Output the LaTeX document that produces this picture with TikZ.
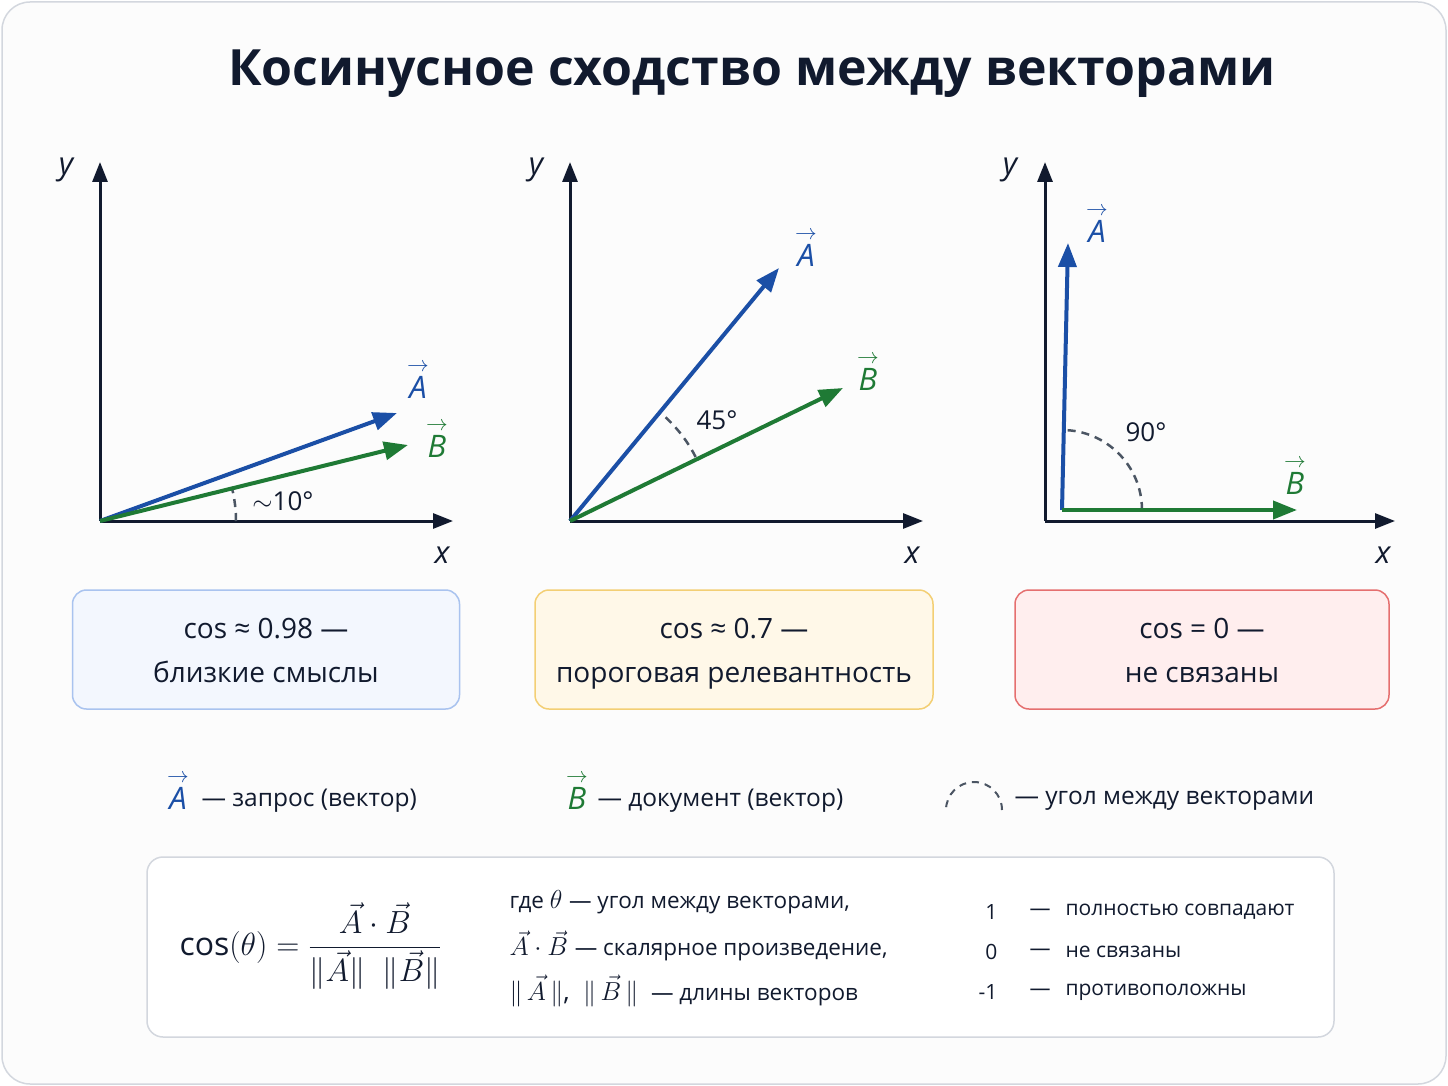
\RequirePackage{fix-cm}
\documentclass[tikz,border=0pt]{standalone}
\usepackage{amsmath}
\usepackage{fontspec}
\setmainfont{Open Sans}
\usetikzlibrary{arrows.meta}
\definecolor{navy}{HTML}{111A2E}
\definecolor{vecA}{HTML}{1B4FA6}
\definecolor{vecB}{HTML}{1F7A35}
\definecolor{arcgray}{HTML}{4B5563}
\definecolor{framegray}{HTML}{D3D7DE}
\definecolor{bluefill}{HTML}{F3F7FE}
\definecolor{blueline}{HTML}{A9C3EF}
\definecolor{yellowfill}{HTML}{FFF8E8}
\definecolor{yellowline}{HTML}{F3CF74}
\definecolor{redfill}{HTML}{FFEEEE}
\definecolor{redline}{HTML}{E56F6F}
\newcommand{\fs}[1]{\fontsize{#1}{#1}\selectfont}
\newcommand{\vs}[1]{$\overset{\rightarrow}{\text{\itshape #1}}$}
\begin{document}
\begin{tikzpicture}[x=1pt,y=-1pt,
	axis/.style={navy,line width=3pt,-{Triangle[length=20pt,width=15pt]}},
	vecline/.style={line width=4pt,-{Triangle[length=24pt,width=18pt]}},
	anglearc/.style={arcgray,line width=2.5pt,dash pattern=on 8pt off 6pt},
	axislabel/.style={navy,font=\itshape\fs{31}},
	veclabel/.style={font=\fs{31}},
	casebox/.style={rounded corners=14pt,line width=1.5pt,minimum width=#1,minimum height=119pt},
	boxtext/.style={navy,font=\fs{28},anchor=base}]
		\useasboundingbox (0,0) rectangle (1448,1086);
		\draw[framegray,fill=white!98!gray,line width=1.5pt,rounded corners=28pt] (2,2) rectangle (1446,1084);
		
		\node[navy,font=\bfseries\fs{50}] (title) at (752,74) {Косинусное сходство между векторами};
		
		% panel 1
		\coordinate (o1) at (100,521);
		\coordinate (a1) at (397,413);
		\coordinate (b1) at (408,445);
		\draw[axis] (o1)--(453,521);
		\draw[axis] (o1)--(100,162);
		\node[axislabel] (y1) at (66,170) {y};
		\node[axislabel] (x1) at (442,555) {x};
		\draw[anglearc] (236,521) arc[start angle=0,end angle=-14,radius=136];
		\draw[vecline,vecA] (o1)--(a1);
		\draw[vecline,vecB] (o1)--(b1);
		\node[veclabel,vecA] (la1) at (418,380) {\vs{A}};
		\node[veclabel,vecB] (lb1) at (437,439) {\vs{B}};
		\node[navy,font=\fs{26}] (deg1) at (283,501) {$\sim$10°};
		
		% panel 2
		\coordinate (o2) at (570,521);
		\coordinate (a2) at (779,268);
		\coordinate (b2) at (843,388);
		\draw[axis] (o2)--(923,521);
		\draw[axis] (o2)--(570,162);
		\node[axislabel] (y2) at (536,170) {y};
		\node[axislabel] (x2) at (912,555) {x};
		\draw[anglearc] (570,521) ++(-27:141) arc[start angle=-27,end angle=-50,radius=141];
		\draw[vecline,vecA] (o2)--(a2);
		\draw[vecline,vecB] (o2)--(b2);
		\node[veclabel,vecA] (la2) at (806,248) {\vs{A}};
		\node[veclabel,vecB] (lb2) at (868,372) {\vs{B}};
		\node[navy,font=\fs{26}] (deg2) at (717,420) {45°};
		
		% panel 3
		\coordinate (o3) at (1045,521);
		\coordinate (s3) at (1062,510);
		\coordinate (a3) at (1068,243);
		\coordinate (b3) at (1297,510);
		\draw[axis] (o3)--(1395,521);
		\draw[axis] (o3)--(1045,162);
		\node[axislabel] (y3) at (1010,170) {y};
		\node[axislabel] (x3) at (1383,555) {x};
		\draw[anglearc] (1142,510) arc[start angle=0,end angle=-90,radius=80];
		\draw[vecline,vecA] (s3)--(a3);
		\draw[vecline,vecB] (s3)--(b3);
		\node[veclabel,vecA] (la3) at (1097,224) {\vs{A}};
		\node[veclabel,vecB] (lb3) at (1295,476) {\vs{B}};
		\node[navy,font=\fs{26}] (deg3) at (1146,432) {90°};
		
		% boxes
		\node[casebox=387pt,draw=blueline,fill=bluefill] (box1) at (266,649.5) {};
		\node[casebox=398pt,draw=yellowline,fill=yellowfill] (box2) at (734,649.5) {};
		\node[casebox=374pt,draw=redline,fill=redfill] (box3) at (1202,649.5) {};
		\node[boxtext] (c1) at (266,638) {cos ≈ 0.98 —};
		\node[boxtext] (m1) at (266,682) {близкие смыслы};
		\node[boxtext] (c2) at (734,638) {cos ≈ 0.7 —};
		\node[boxtext] (m2) at (734,682) {пороговая релевантность};
		\node[boxtext] (c3) at (1202,638) {cos = 0 —};
		\node[boxtext] (m3) at (1202,682) {не связаны};
		
		% legend
		\node[veclabel,vecA] (legA) at (178,791) {\vs{A}};
		\node[navy,font=\fs{24.5},anchor=west] (legAt) at (198,801) {— запрос (вектор)};
		\node[veclabel,vecB] (legB) at (577,791) {\vs{B}};
		\node[navy,font=\fs{24.5},anchor=west] (legBt) at (594,801) {— документ (вектор)};
		\draw[anglearc,line width=2pt,dash pattern=on 7pt off 6pt] (1002,810) arc[start angle=0,end angle=-180,radius=28];
		\node[navy,font=\fs{24.5},anchor=west] (legarc) at (1011,801) {— угол между векторами};
		
		% formula
		\draw[framegray,fill=white,line width=1.5pt,rounded corners=16pt] (147,857) rectangle (1334,1037);
		\node[navy,font=\fs{32},anchor=west] (cosf) at (176,946) {cos$(\theta) = \dfrac{\vec{A}\cdot\vec{B}}{\|\vec{A}\|\;\;\|\vec{B}\|}$};
		\node[navy,font=\fs{22.5},anchor=west] (w1) at (506,902) {где \fs{26}$\theta$ \fs{22.5}— угол между векторами,};
		\node[navy,font=\fs{22.5},anchor=west] (w2) at (506,946) {\fs{26}$\vec{A}\cdot\vec{B}$ \fs{22.5}— скалярное произведение,};
		\node[navy,font=\fs{22.5},anchor=west] (w3) at (506,991) {\fs{26}$\|\,\vec{A}\,\|$, \ $\|\,\vec{B}\,\|$ \fs{22.5} — длины векторов};
		
		\foreach \v/\t/\yy in {1/полностью совпадают/912,0/не связаны/952,-1/противоположны/992}{
			\node[navy,font=\fs{21},anchor=east] at (1001,\yy) {\v};
			\node[navy,font=\fs{21}] at (1040,\yy) {—};
			\node[navy,font=\fs{21},anchor=west] at (1062,\yy) {\t};
		}
		
		\end{tikzpicture}
\end{document}
